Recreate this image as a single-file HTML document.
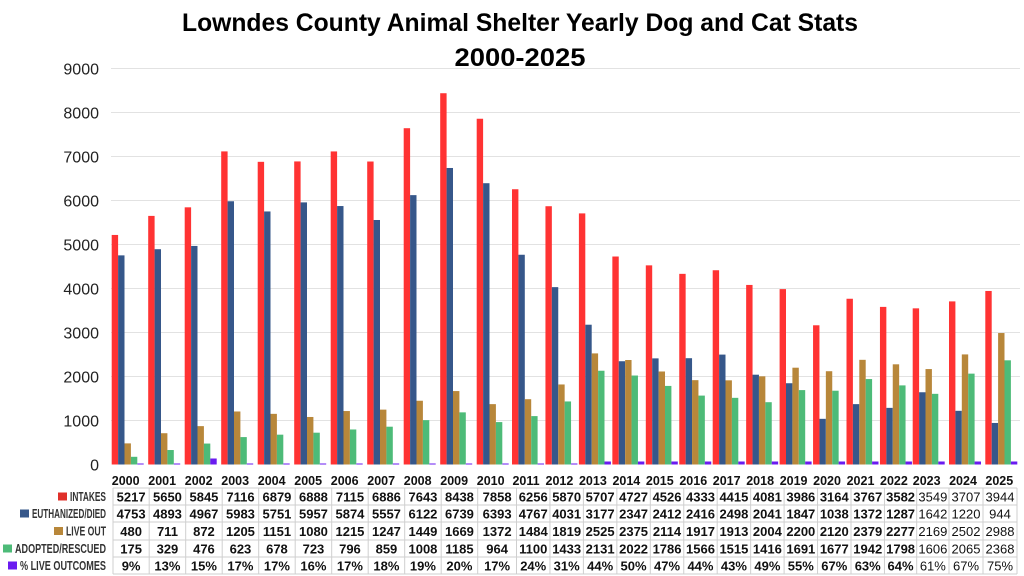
<!DOCTYPE html>
<html><head><meta charset="utf-8"><style>
html,body{margin:0;padding:0;background:#fff;width:1024px;height:576px;overflow:hidden}
svg{display:block}
text{font-family:"Liberation Sans",sans-serif}
</style></head><body>
<svg id="s" width="1024" height="576" viewBox="0 0 1024 576" xmlns="http://www.w3.org/2000/svg">
<text x="520" y="31" text-anchor="middle" font-size="25" font-weight="bold" textLength="676" lengthAdjust="spacingAndGlyphs">Lowndes County Animal Shelter Yearly Dog and Cat Stats</text>
<text x="520" y="66" text-anchor="middle" font-size="25" font-weight="bold" textLength="131" lengthAdjust="spacingAndGlyphs">2000-2025</text>
</svg>
<script>
var s=document.getElementById('s'),NS='http://www.w3.org/2000/svg';
function el(t,a,txt){var e=document.createElementNS(NS,t);for(var k in a)e.setAttribute(k,a[k]);if(txt!==undefined)e.textContent=txt;s.appendChild(e);return e;}
var years=[2000,2001,2002,2003,2004,2005,2006,2007,2008,2009,2010,2011,2012,2013,2014,2015,2016,2017,2018,2019,2020,2021,2022,2023,2024,2025];
var I=[5217,5650,5845,7116,6879,6888,7115,6886,7643,8438,7858,6256,5870,5707,4727,4526,4333,4415,4081,3986,3164,3767,3582,3549,3707,3944];
var E=[4753,4893,4967,5983,5751,5957,5874,5557,6122,6739,6393,4767,4031,3177,2347,2412,2416,2498,2041,1847,1038,1372,1287,1642,1220,944];
var L=[480,711,872,1205,1151,1080,1215,1247,1449,1669,1372,1484,1819,2525,2375,2114,1917,1913,2004,2200,2120,2379,2277,2169,2502,2988];
var A=[175,329,476,623,678,723,796,859,1008,1185,964,1100,1433,2131,2022,1786,1566,1515,1416,1691,1677,1942,1798,1606,2065,2368];
var P=[9,13,15,17,17,16,17,18,19,20,17,24,31,44,50,47,44,43,49,55,67,63,64,61,67,75];
var xs=[];for(var i=0;i<11;i++)xs.push(111.7+36.5*i);
for(i=0;i<12;i++)xs.push(512+33.45*i);xs.push(912.7,949,985.3);
var y0=464.5,k=0.044;
for(var g=0;g<=9;g++){var yy=y0-g*44;if(g>0)el('line',{x1:111,x2:1020,y1:yy,y2:yy,stroke:'#e2e2e2','stroke-width':1});
el('text',{x:99,y:yy+6,'text-anchor':'end','font-size':16,fill:'#222'},String(g*1000));}
var cols=['#ff3333','#36578a','#b8873a','#4dbb78','#6a1bf0'];
var bw=6.4;
for(i=0;i<26;i++){var x=xs[i];var vals=[I[i],E[i],L[i],A[i]];
for(var j=0;j<4;j++){var h=vals[j]*k;el('rect',{x:x+j*bw,y:y0-h,width:bw,height:h,fill:cols[j]});}
var ph=i==2?6:(i>=13?3:1);el('rect',{x:x+4*bw,y:y0-ph,width:bw,height:ph,fill:cols[4]});
el('text',{x:x+14,y:485,'text-anchor':'middle','font-size':12.5,'font-weight':'bold',fill:'#111'},String(years[i]));}
var cb=[113];for(i=1;i<26;i++)cb.push(i<11?xs[i]+1:xs[i]+4.5);cb[23]=916.7;cb[24]=949;cb[25]=983;cb.push(1017);
var rb=[488,505,522,540,557,574];
for(var r=0;r<6;r++)el('line',{x1:113,x2:1017,y1:rb[r],y2:rb[r],stroke:'#cfcfcf','stroke-width':1});
for(i=0;i<=26;i++)el('line',{x1:cb[i],x2:cb[i],y1:488,y2:574,stroke:'#cfcfcf','stroke-width':1});
var labels=['INTAKES','EUTHANIZED/DIED','LIVE OUT','ADOPTED/RESCUED','% LIVE OUTCOMES'];
var lw=[36,74,40,91,86];
var sq=['#e0302a','#36578a','#b8873a','#4dbb78','#6a1bf0'];
var data=[I,E,L,A,P];
for(r=0;r<5;r++){var cy=(rb[r]+rb[r+1])/2;
el('text',{x:106,y:cy+4.5,'text-anchor':'end','font-size':12.5,'font-weight':'bold',fill:'#333',textLength:lw[r],lengthAdjust:'spacingAndGlyphs'},labels[r]);
el('rect',{x:106-lw[r]-12,y:cy-4,width:9,height:8,fill:sq[r]});
for(i=0;i<26;i++){var v=data[r][i]+(r==4?'%':'');
el('text',{x:(cb[i]+cb[i+1])/2,y:cy+5,'text-anchor':'middle','font-size':13,'font-weight':i>=23?'normal':'bold',fill:'#111'},v);}}
</script>
</body></html>
